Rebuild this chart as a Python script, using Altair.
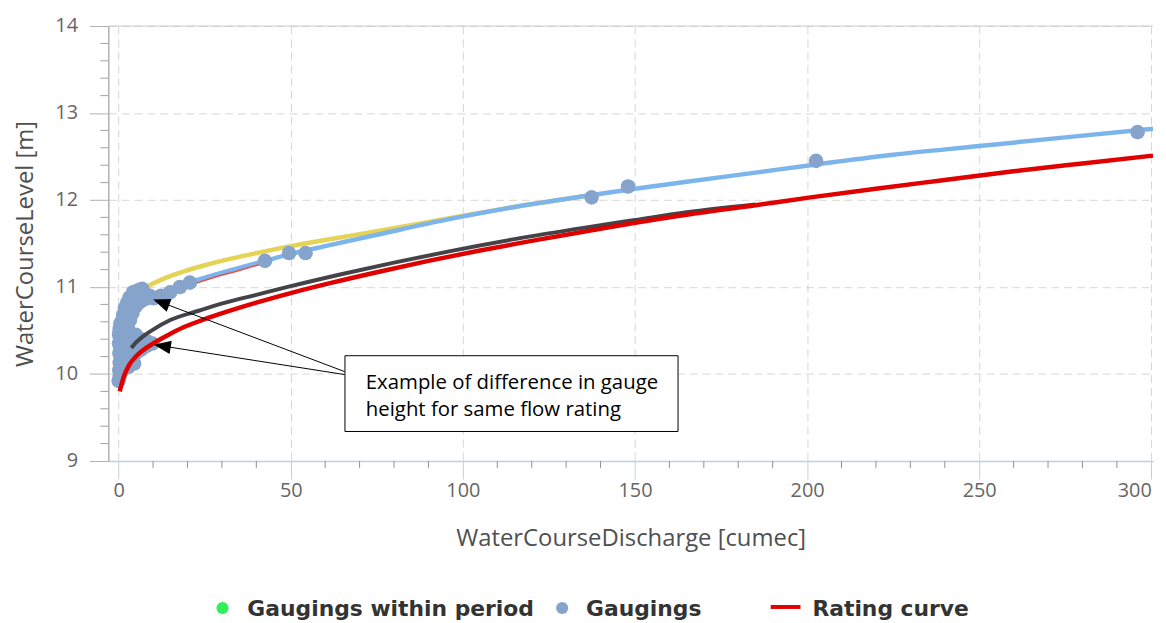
import altair as alt
import pandas as pd

# ---- data ----
gauge_q = [0.0, 0.3, 0.6, 0.2, 0.9, 0.5, 1.3, 0.3, 1.0, 1.8, 0.6, 1.5, 2.4, 0.2, 1.0, 2.0, 3.0,
           0.5, 1.6, 0.1, 1.0, 0.4, 1.4, 0.1, 0.8, 1.8, 0.3, 1.2, 0.5, 2.2, 1.0, 1.8, 2.8, 1.3,
           2.3, 3.5, 1.8, 3.0, 4.3, 2.5, 3.8, 5.2, 3.2, 4.5, 6.0, 4.2, 5.5, 6.8, 7.5, 8.6, 10.2,
           12.3, 15.0, 17.8, 20.7, 3.8, 5.0, 6.5, 8.0, 9.8, 4.5, 2.8,
           5.0, 6.3, 7.6, 9.0, 4.0, 3.3, 2.7, 2.0, 3.5, 5.0, 6.5, 8.5, 4.5,
           42.5, 49.5, 54.3, 137.4, 148.0, 202.6, 296.0]
gauge_h = [9.92, 9.97, 10.01, 10.04, 10.06, 10.09, 10.11, 10.13, 10.15, 10.16, 10.19, 10.21, 10.22,
           10.24, 10.26, 10.27, 10.26, 10.30, 10.32, 10.35, 10.37, 10.41, 10.43, 10.46, 10.48, 10.50,
           10.52, 10.55, 10.58, 10.57, 10.61, 10.63, 10.66, 10.68, 10.71, 10.73, 10.76, 10.78, 10.80,
           10.82, 10.85, 10.86, 10.88, 10.91, 10.90, 10.94, 10.96, 10.98, 10.93, 10.88, 10.87, 10.90,
           10.94, 11.00, 11.05, 10.20, 10.24, 10.28, 10.32, 10.35, 10.12, 10.08,
           10.78, 10.83, 10.86, 10.90, 10.70, 10.62, 10.52, 10.42, 10.45, 10.45, 10.40, 10.37, 10.38,
           11.30, 11.39, 11.39, 12.03, 12.155, 12.45, 12.78]

red_q = [0.3, 1.5, 3, 5, 7, 10, 14, 19, 25, 31, 40, 50, 62, 75, 90, 105, 120, 140, 165, 185, 201,
         220, 240, 260, 280, 300.5]
red_h = [9.80, 9.97, 10.10, 10.20, 10.27, 10.35, 10.44, 10.54, 10.63, 10.71, 10.82, 10.93, 11.05,
         11.17, 11.30, 11.42, 11.53, 11.67, 11.83, 11.94, 12.03, 12.13, 12.23, 12.33, 12.42, 12.51]

black_q = [3.7, 5, 7, 10, 15, 23.5, 31, 40, 50, 65, 80, 96, 115, 135, 150, 165, 185]
black_h = [10.30, 10.36, 10.43, 10.51, 10.62, 10.73, 10.82, 10.91, 11.01, 11.15, 11.28, 11.41,
           11.55, 11.68, 11.77, 11.86, 11.95]

blue_q = [4, 6, 8, 11, 15, 20, 27, 35, 42.5, 50, 60, 75, 96, 115, 138, 150, 165, 185, 201, 225,
          250, 275, 300.5]
blue_h = [10.70, 10.80, 10.86, 10.92, 10.98, 11.05, 11.13, 11.22, 11.30, 11.38, 11.47, 11.60,
          11.78, 11.92, 12.06, 12.13, 12.21, 12.315, 12.40, 12.52, 12.62, 12.72, 12.82]

yellow_q = [7, 10, 14, 19, 25, 32, 40, 50, 60, 75, 96, 115, 138]
yellow_h = [10.98, 11.04, 11.11, 11.18, 11.25, 11.32, 11.39, 11.47, 11.54, 11.64, 11.79, 11.92, 12.06]

pink_q = [9, 15, 20, 27, 35, 42]
pink_h = [10.84, 10.94, 11.01, 11.10, 11.19, 11.27]

x_major = [0, 50, 100, 150, 200, 250, 300]
x_minor = [10, 20, 30, 40, 60, 70, 80, 90, 110, 120, 130, 140, 160, 170, 180, 190,
           210, 220, 230, 240, 260, 270, 280, 290]
y_major = [9, 10, 11, 12, 13, 14]
y_minor = [9.2, 9.4, 9.6, 9.8, 10.2, 10.4, 10.6, 10.8, 11.2, 11.4, 11.6, 11.8,
           12.2, 12.4, 12.6, 12.8, 13.2, 13.4, 13.6, 13.8]

legend_labels = ["Gaugings within period", "Gaugings", "Rating curve"]
annotation = "Example of difference in gauge\nheight for same flow rating"

# ---- layout ----
W, H = 1052, 438
FONT = "Open Sans"

x_scale = alt.Scale(domain=[-3, 300.5], nice=False, zero=False)
y_scale = alt.Scale(domain=[9, 14], nice=False, zero=False)

x_axis = alt.Axis(values=x_major, grid=True, gridDash=[8, 5], gridColor="#d6d6d6",
                  domainColor="#c0d0e0", domainWidth=1.5, tickColor="#c0d0e0", tickSize=18,
                  labelFont=FONT, labelFontSize=20, labelColor="#666666", labelPadding=2,
                  labelFlush=3, title="WaterCourseDischarge [cumec]", titleFont=FONT,
                  titleFontSize=24, titleFontWeight="normal", titleColor="#505050",
                  titleY=85, titleBaseline="alphabetic")
y_axis = alt.Axis(values=y_major, grid=True, gridDash=[8, 5], gridColor="#d6d6d6",
                  domainColor="#b0b0b0", domainWidth=1.5, tickColor="#b0b0b0", tickSize=19,
                  labelFont=FONT, labelFontSize=20, labelColor="#666666", labelPadding=12,
                  title="WaterCourseLevel [m]", titleFont=FONT, titleFontSize=24,
                  titleFontWeight="normal", titleColor="#505050", titleX=-76,
                  titleBaseline="alphabetic")

X = alt.X("Q:Q", scale=x_scale, axis=x_axis)
Y = alt.Y("h:Q", scale=y_scale, axis=y_axis)


def line(q, h, color, width):
    return alt.Chart(pd.DataFrame({"Q": q, "h": h})).mark_line(
        color=color, strokeWidth=width, interpolate="monotone").encode(x=X, y=Y)


one = pd.DataFrame({"a": [0]})

yellow = line(yellow_q, yellow_h, "#e4d354", 4.5)
blue = line(blue_q, blue_h, "#7cb5ec", 4.5)
pink = line(pink_q, pink_h, "#e05050", 1.5)
black = line(black_q, black_h, "#434348", 4)
red = line(red_q, red_h, "#e00000", 4.5)

points = alt.Chart(pd.DataFrame({"Q": gauge_q, "h": gauge_h})).mark_circle(
    size=215, color="#86a3cb", opacity=1).encode(x=X, y=Y)

ymin = alt.Chart(pd.DataFrame({"h": y_minor})).mark_rule(color="#a0a0a0", strokeWidth=1).encode(
    y=Y, x=alt.value(-8), x2=alt.value(0))
xmin = alt.Chart(pd.DataFrame({"Q": x_minor})).mark_rule(color="#909090", strokeWidth=1).encode(
    x=X, y=alt.value(H), y2=alt.value(H + 7))
top = alt.Chart(one).mark_rule(color="#cccccc", strokeWidth=1).encode(
    x=alt.value(0), x2=alt.value(W), y=alt.value(0))

# annotation
box = alt.Chart(one).mark_rect(fill="white", stroke="black", strokeWidth=1).encode(
    x=alt.value(238.3), x2=alt.value(573.7), y=alt.value(332), y2=alt.value(408.3))
ann_text = alt.Chart(pd.DataFrame({"t": [annotation]})).mark_text(
    align="left", baseline="alphabetic", lineBreak="\n", lineHeight=26.7, fontSize=20.5,
    font=FONT, color="black").encode(text="t:N", x=alt.value(259.3), y=alt.value(366))
arrow1 = alt.Chart(one).mark_rule(color="black", strokeWidth=1).encode(
    x=alt.value(238), y=alt.value(348), x2=alt.value(50), y2=alt.value(277))
arrow2 = alt.Chart(one).mark_rule(color="black", strokeWidth=1).encode(
    x=alt.value(238), y=alt.value(351), x2=alt.value(50), y2=alt.value(321.5))
ARROW = "M0,0L2,-0.8L2,0.8Z"
head1 = alt.Chart(one).mark_point(shape=ARROW, filled=True, color="black", opacity=1, size=289,
                                  angle=20.7, strokeWidth=0).encode(
    x=alt.value(45.3), y=alt.value(275.3))
head2 = alt.Chart(one).mark_point(shape=ARROW, filled=True, color="black", opacity=1, size=289,
                                  angle=8.9, strokeWidth=0).encode(
    x=alt.value(46), y=alt.value(321))

# legend (drawn by hand at the bottom)
LY = 586
leg = []
leg.append(alt.Chart(one).mark_circle(size=150, color="#33ee5a", opacity=1).encode(
    x=alt.value(115), y=alt.value(LY)))
leg.append(alt.Chart(one).mark_circle(size=150, color="#86a3cb", opacity=1).encode(
    x=alt.value(457), y=alt.value(LY)))
leg.append(alt.Chart(one).mark_rule(color="#e00000", strokeWidth=4).encode(
    x=alt.value(667), x2=alt.value(697), y=alt.value(LY - 1)))
for xpos, lab in zip([140, 481, 709], legend_labels):
    leg.append(alt.Chart(pd.DataFrame({"t": [lab]})).mark_text(
        align="left", baseline="alphabetic", fontSize=22, fontWeight="bold", font="DejaVu Sans",
        color="#333333").encode(text="t:N", x=alt.value(xpos), y=alt.value(LY + 8)))

chart = alt.layer(
    top, xmin, ymin, yellow, blue, pink, points, black, red,
    arrow1, arrow2, head1, head2, box, ann_text, *leg
).properties(
    width=W, height=H,
    autosize=alt.AutoSizeParams(type="none"),
    padding={"left": 101, "top": 16, "right": 5, "bottom": 161},
    background="white",
).configure_view(strokeWidth=0)

chart.save("out.html", embed_options={"renderer": "svg", "actions": False})
